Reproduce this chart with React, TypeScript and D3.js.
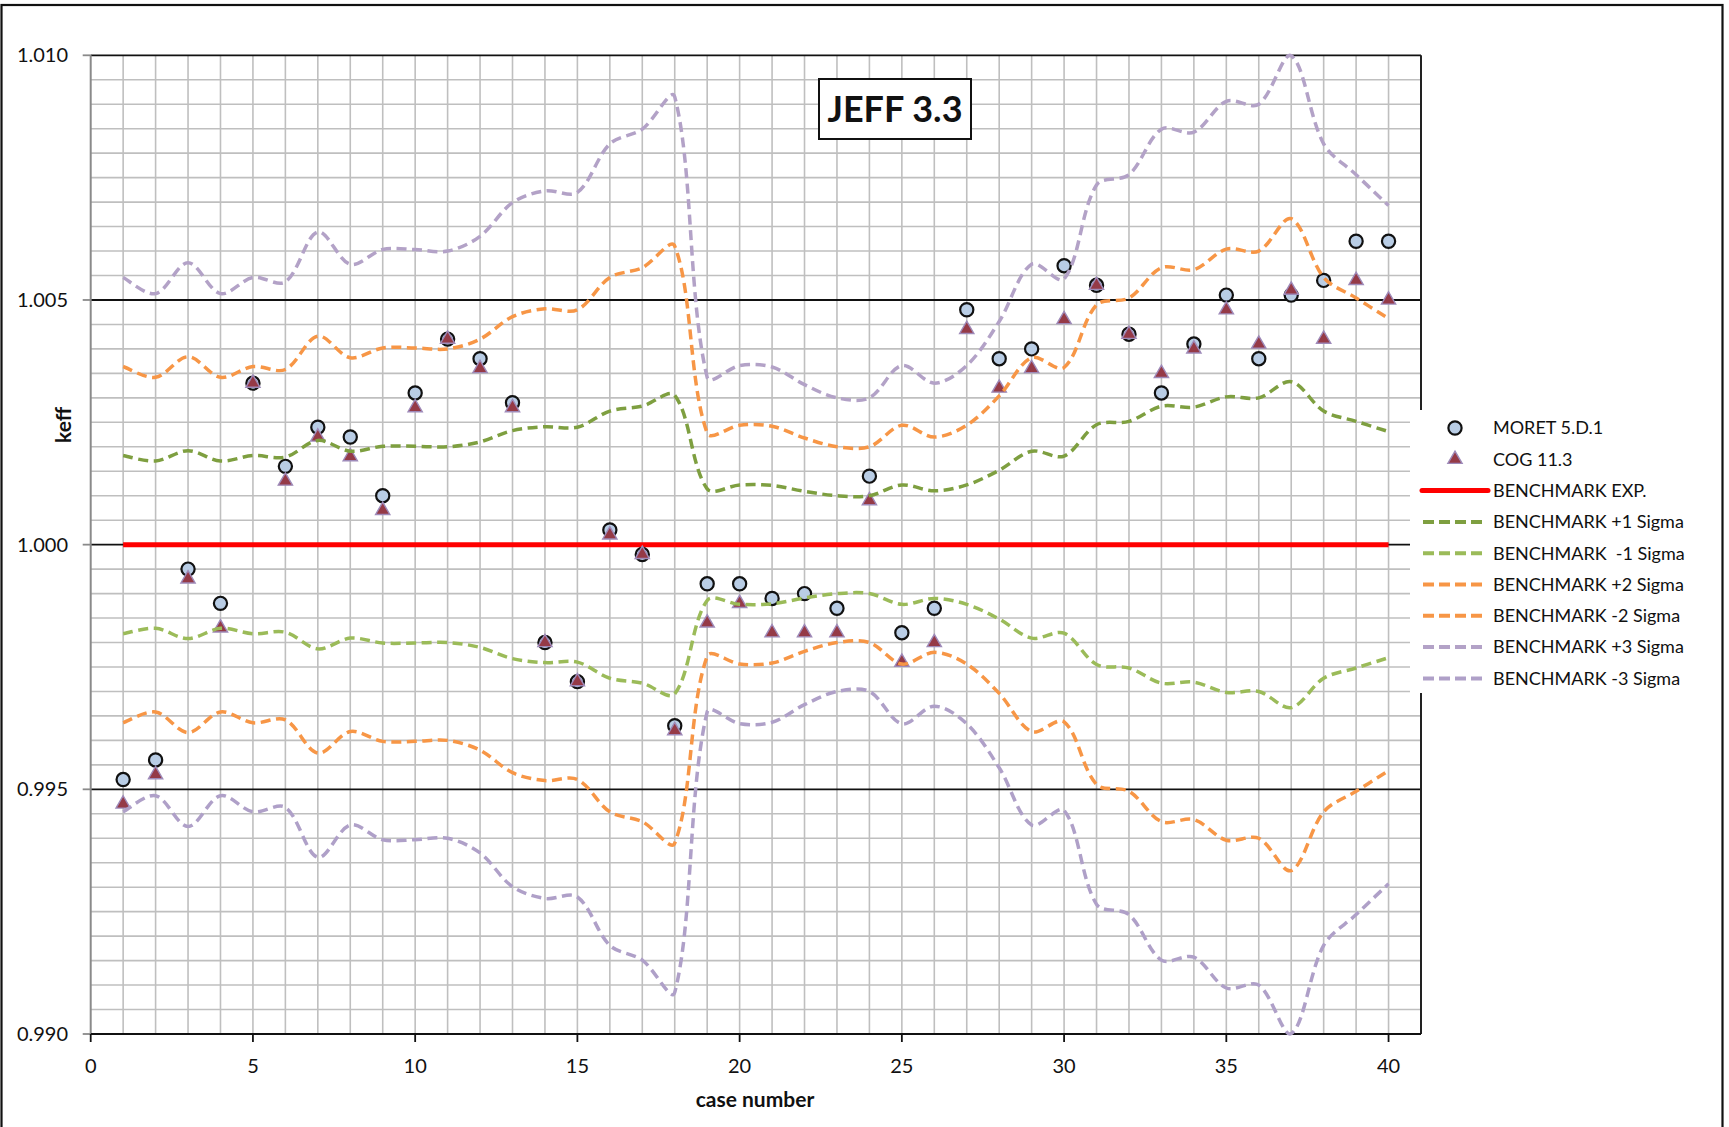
import React from 'react';
import * as d3 from 'd3';

// Case numbers of the criticality benchmarks
const caseNumbers = [
  1, 2, 3, 4, 5, 6, 7, 8, 9, 10,
  11, 12, 13, 14, 15, 16, 17, 18, 19, 20,
  21, 22, 23, 24, 25, 26, 27, 28, 29, 30,
  31, 32, 33, 34, 35, 36, 37, 38, 39, 40,
];

// Calculated keff, MORET 5.D.1
const moretKeff = [
  0.9952, 0.9956, 0.9995, 0.9988, 1.0033, 1.0016, 1.0024, 1.0022, 1.0010, 1.0031,
  1.0042, 1.0038, 1.0029, 0.9980, 0.9972, 1.0003, 0.9998, 0.9963, 0.9992, 0.9992,
  0.9989, 0.9990, 0.9987, 1.0014, 0.9982, 0.9987, 1.0048, 1.0038, 1.0040, 1.0057,
  1.0053, 1.0043, 1.0031, 1.0041, 1.0051, 1.0038, 1.0051, 1.0054, 1.0062, 1.0062,
];

// Calculated keff, COG 11.3
const cogKeff = [
  0.9947, 0.9953, 0.9993, 0.9983, 1.0033, 1.0013, 1.0022, 1.0018, 1.0007, 1.0028,
  1.0042, 1.0036, 1.0028, 0.9980, 0.9972, 1.0002, 0.9998, 0.9962, 0.9984, 0.9988,
  0.9982, 0.9982, 0.9982, 1.0009, 0.9976, 0.9980, 1.0044, 1.0032, 1.0036, 1.0046,
  1.0053, 1.0043, 1.0035, 1.0040, 1.0048, 1.0041, 1.0052, 1.0042, 1.0054, 1.0050,
];

// Experimental benchmark value and its 1-sigma uncertainty per case
const benchmarkKeff = 1.0;
const benchmarkSigma = [
  0.00182, 0.00171, 0.00192, 0.00171, 0.00182, 0.00179, 0.00213, 0.00191, 0.00201, 0.00201,
  0.00200, 0.00210, 0.00233, 0.00241, 0.00240, 0.00273, 0.00283, 0.00305, 0.00114, 0.00122,
  0.00121, 0.00109, 0.00100, 0.00100, 0.00122, 0.00110, 0.00122, 0.00152, 0.00191, 0.00181,
  0.00245, 0.00252, 0.00283, 0.00281, 0.00302, 0.00300, 0.00333, 0.00273, 0.00252, 0.00231,
];

// Sigma multipliers of the benchmark bands, in legend order
const sigmaMultipliers = [1, -1, 2, -2, 3, -3];

const xTickValues = [0, 5, 10, 15, 20, 25, 30, 35, 40];
const yTickValues = [0.99, 0.995, 1.0, 1.005, 1.01];

const legendLabels = [
  'MORET 5.D.1',
  'COG 11.3',
  'BENCHMARK EXP.',
  'BENCHMARK +1 Sigma',
  'BENCHMARK  -1 Sigma',
  'BENCHMARK +2 Sigma',
  'BENCHMARK -2 Sigma',
  'BENCHMARK +3 Sigma',
  'BENCHMARK -3 Sigma',
];

const chartTitle = 'JEFF 3.3';
const xAxisTitle = 'case number';
const yAxisTitle = 'keff';

const FONT = 'Lato, "Open Sans", "Liberation Sans", sans-serif';

const bandColors: Record<number, string> = {
  1: '#7E9F40',
  [-1]: '#9BBB59',
  2: '#F79646',
  [-2]: '#F79646',
  3: '#B3A2C7',
  [-3]: '#AFA0C8',
};

// Spreadsheet-style smoothed line: cubic Bezier segments whose tangent at each
// point follows its neighbours, with handle lengths split by adjacent chord length.
function smoothPath(pts: [number, number][]): string {
  const n = pts.length;
  const k = 1 / 3;
  const ctrl = pts.map((p, i) => {
    const prev = pts[Math.max(i - 1, 0)];
    const next = pts[Math.min(i + 1, n - 1)];
    const tx = next[0] - prev[0];
    const ty = next[1] - prev[1];
    let dPrev = Math.hypot(p[0] - prev[0], p[1] - prev[1]);
    let dNext = Math.hypot(next[0] - p[0], next[1] - p[1]);
    let sum = dPrev + dNext;
    if (i === 0 || i === n - 1) {
      dPrev = dNext = 1;
      sum = 2;
    }
    return {
      inX: p[0] - (tx * k * dPrev) / sum,
      inY: p[1] - (ty * k * dPrev) / sum,
      outX: p[0] + (tx * k * dNext) / sum,
      outY: p[1] + (ty * k * dNext) / sum,
    };
  });
  const path = d3.path();
  path.moveTo(pts[0][0], pts[0][1]);
  for (let i = 1; i < n; i++) {
    path.bezierCurveTo(ctrl[i - 1].outX, ctrl[i - 1].outY, ctrl[i].inX, ctrl[i].inY, pts[i][0], pts[i][1]);
  }
  return path.toString();
}

export default function App() {
  const W = 1729;
  const H = 1127;
  const plot = { left: 90.7, right: 1421, top: 55.3, bottom: 1034 };

  const x = d3.scaleLinear().domain([0, 41]).range([plot.left, plot.right]);
  const y = d3.scaleLinear().domain([0.99, 1.01]).range([plot.bottom, plot.top]);

  const vGrid = d3.range(1, 41);
  const hGrid = d3.range(1, 40).map((i) => 0.99 + i * 0.0005);
  const isMajor = (v: number) => yTickValues.some((t) => Math.abs(t - v) < 1e-9);

  const bandLines = sigmaMultipliers.map((k) => ({
    k,
    path: smoothPath(
      caseNumbers.map((c, i) => [x(c), y(benchmarkKeff + k * benchmarkSigma[i])] as [number, number])
    ),
  }));

  const triangle = d3.symbol(d3.symbolTriangle, 88)() || '';

  const legendX = 1410;
  const legendTop = 410;
  const rowY = (i: number) => 428 + i * 31.3;

  const circleStyle = { fill: '#B9CDE5', stroke: '#111', strokeWidth: 2.2 };
  const triStyle = { fill: '#953A47', stroke: '#9E8AB9', strokeWidth: 1.4 };

  return (
    <svg
      width={W}
      height={H}
      viewBox={`0 0 ${W} ${H}`}
      style={{ position: 'absolute', left: 0, top: 0, display: 'block', background: '#fff' }}
      fontFamily={FONT}
    >
      <rect x={0} y={0} width={W} height={H} fill="#fff" />
      {/* outer frame */}
      <rect x={1.5} y={5} width={1721} height={H + 20} fill="none" stroke="#111" strokeWidth={2.2} />

      {/* minor gridlines */}
      <g stroke="#BFBFBF" strokeWidth={1.6}>
        {vGrid.map((v) => (
          <line key={'v' + v} x1={x(v)} x2={x(v)} y1={plot.top} y2={plot.bottom} />
        ))}
        {hGrid
          .filter((v) => !isMajor(v))
          .map((v, i) => (
            <line key={'h' + i} x1={plot.left} x2={plot.right} y1={y(v)} y2={y(v)} />
          ))}
      </g>
      {/* major gridlines */}
      <g stroke="#111" strokeWidth={1.8}>
        {yTickValues.map((v) => (
          <line key={'m' + v} x1={plot.left} x2={plot.right} y1={y(v)} y2={y(v)} />
        ))}
      </g>
      {/* plot border and axes */}
      <line x1={plot.right} x2={plot.right} y1={plot.top} y2={plot.bottom} stroke="#222" strokeWidth={2} />
      <line x1={plot.left} x2={plot.left} y1={plot.top} y2={plot.bottom} stroke="#8A8A8A" strokeWidth={2} />
      <line x1={plot.left} x2={plot.right} y1={plot.bottom} y2={plot.bottom} stroke="#111" strokeWidth={2.2} />

      {/* y ticks and labels */}
      <g>
        {yTickValues.map((v) => (
          <g key={'yt' + v}>
            <line x1={plot.left - 8} x2={plot.left} y1={y(v)} y2={y(v)} stroke="#8A8A8A" strokeWidth={1.8} />
            <text x={68} y={y(v)} dy="0.35em" textAnchor="end" fontSize={20} fill="#111">
              {d3.format('.3f')(v)}
            </text>
          </g>
        ))}
      </g>
      {/* x ticks and labels */}
      <g>
        {xTickValues.map((v) => (
          <g key={'xt' + v}>
            <line x1={x(v)} x2={x(v)} y1={plot.bottom} y2={plot.bottom + 8} stroke="#111" strokeWidth={1.8} />
            <text x={x(v)} y={1073} textAnchor="middle" fontSize={20} fill="#111">
              {v}
            </text>
          </g>
        ))}
      </g>
      <text x={755} y={1107} textAnchor="middle" fontSize={21} fontWeight={700} fill="#111">
        {xAxisTitle}
      </text>
      <text
        transform={`translate(71,425) rotate(-90)`}
        textAnchor="middle"
        fontSize={21}
        fontWeight={700}
        fill="#111"
      >
        {yAxisTitle}
      </text>

      {/* experimental benchmark */}
      <line
        x1={x(caseNumbers[0])}
        x2={x(caseNumbers[caseNumbers.length - 1])}
        y1={y(benchmarkKeff)}
        y2={y(benchmarkKeff)}
        stroke="#FF0000"
        strokeWidth={5}
      />

      {/* calculated values */}
      <g>
        {caseNumbers.map((c, i) => (
          <circle key={'m' + c} cx={x(c)} cy={y(moretKeff[i])} r={6.6} {...circleStyle} />
        ))}
      </g>
      <g>
        {caseNumbers.map((c, i) => (
          <path key={'c' + c} d={triangle} transform={`translate(${x(c)},${y(cogKeff[i])})`} {...triStyle} />
        ))}
      </g>

      {/* benchmark uncertainty bands */}
      <g fill="none">
        {bandLines.map((b) => (
          <path
            key={'b' + b.k}
            d={b.path}
            stroke={bandColors[b.k]}
            strokeWidth={3.5}
            strokeDasharray="10 5.5"
          />
        ))}
      </g>

      {/* title */}
      <rect x={819} y={79} width={152} height={60} fill="#fff" stroke="#111" strokeWidth={2} />
      <text x={895} y={109} dy="0.36em" textAnchor="middle" fontSize={36} fontWeight={700} fill="#111">
        {chartTitle}
      </text>

      {/* legend */}
      <rect x={legendX} y={legendTop} width={311} height={283} fill="#fff" />
      <g>
        <circle cx={1455} cy={rowY(0)} r={6.6} {...circleStyle} />
        <path d={triangle} transform={`translate(1455,${rowY(1)})`} {...triStyle} />
        <line x1={1422} x2={1488} y1={rowY(2)} y2={rowY(2)} stroke="#FF0000" strokeWidth={5} strokeLinecap="round" />
        {sigmaMultipliers.map((k, i) => (
          <line
            key={'lg' + k}
            x1={1423}
            x2={1484}
            y1={rowY(3 + i)}
            y2={rowY(3 + i)}
            stroke={bandColors[k]}
            strokeWidth={4}
            strokeDasharray="11 5"
          />
        ))}
        {legendLabels.map((t, i) => (
          <text
            key={'lt' + i}
            x={1493}
            y={rowY(i)}
            dy="0.35em"
            fontSize={18}
            fill="#111"
            style={{ whiteSpace: 'pre' }}
          >
            {t}
          </text>
        ))}
      </g>
    </svg>
  );
}
